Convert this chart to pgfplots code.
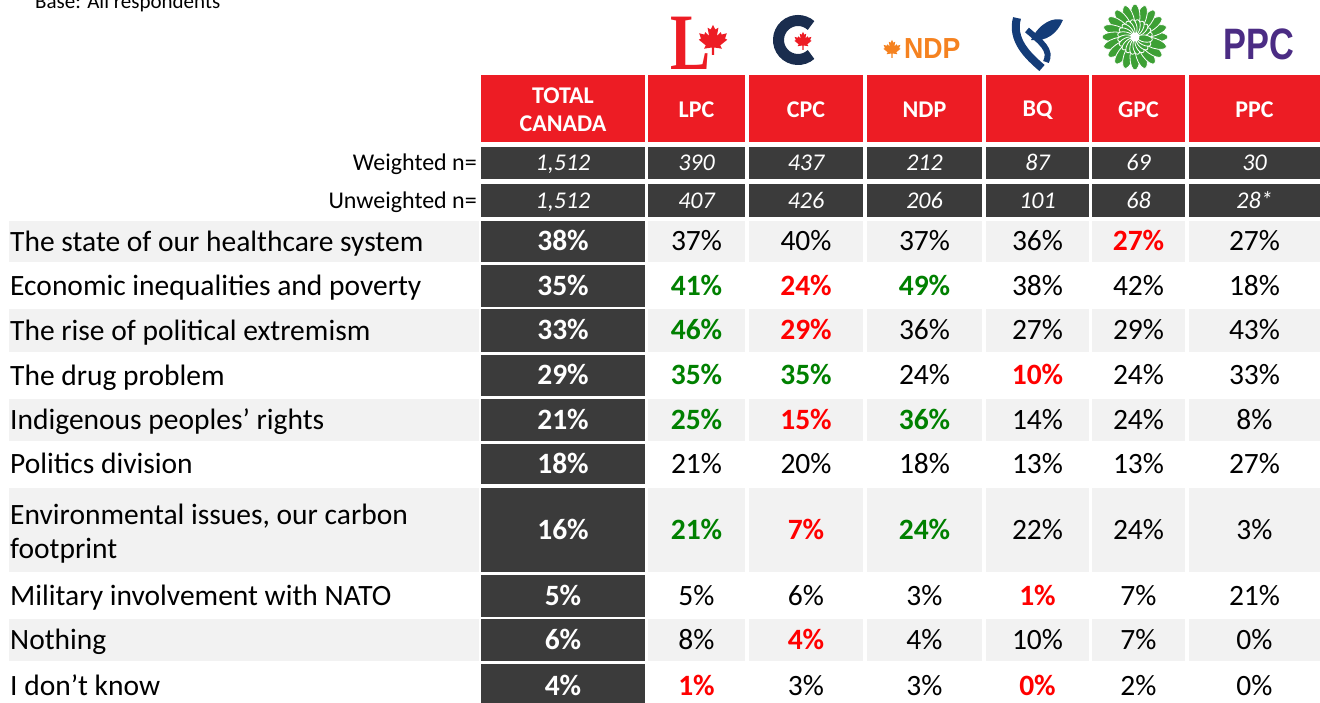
\documentclass[border=0pt]{standalone}
\usepackage{pgfplots}
\pgfplotsset{compat=1.18}
\usepackage{pgfplotstable}
\usepackage{fontspec}
\setmainfont{Carlito}
\newfontfamily\lsans{Liberation Sans}
\newfontfamily\lserif{Liberation Serif}
\definecolor{hdr}{HTML}{ED1C24}
\definecolor{dark}{HTML}{3B3B3B}
\definecolor{lgrey}{HTML}{F2F2F2}
\definecolor{sigg}{HTML}{008000}
\definecolor{sigr}{HTML}{FF0000}
\definecolor{cpcnavy}{HTML}{1A2D4E}
\definecolor{bqblue}{HTML}{143C78}
\definecolor{ndporange}{HTML}{F58220}
\definecolor{gpcgreen}{HTML}{3DA035}
\definecolor{ppcpurple}{HTML}{4B2C84}
\newcommand\lstrut{\rule[-6.5bp]{0pt}{32bp}}
\tikzset{leaf/.pic={\fill (0,-1) -- (0.07,-1) -- (0.07,-0.5) -- (0.6,-0.58) -- (0.48,-0.36)
  -- (0.95,0.02) -- (0.8,0.1) -- (0.92,0.45) -- (0.58,0.36) -- (0.52,0.52) -- (0.26,0.26)
  -- (0.36,0.82) -- (0.16,0.7) -- (0,1) -- (-0.16,0.7) -- (-0.36,0.82) -- (-0.26,0.26)
  -- (-0.52,0.52) -- (-0.58,0.36) -- (-0.92,0.45) -- (-0.8,0.1) -- (-0.95,0.02)
  -- (-0.48,-0.36) -- (-0.6,-0.58) -- (-0.07,-0.5) -- (-0.07,-1) -- cycle;}}

% column centres: TOTAL 563, LPC 696.5, CPC 806, NDP 924.5, BQ 1037.5, GPC 1138.5, PPC 1254.5
% TOTAL CANADA column (y = row centre)
\pgfplotstableread{
y     v
241.5 38
286   35
330.5 33
375.5 29
420   21
464   18
530   16
596   5
640   6
686   4
}\total

% party cells, no significant difference
\pgfplotstableread{
x      y     v
696.5  241.5 37
806    241.5 40
924.5  241.5 37
1037.5 241.5 36
1254.5 241.5 27
1037.5 286   38
1138.5 286   42
1254.5 286   18
924.5  330.5 36
1037.5 330.5 27
1138.5 330.5 29
1254.5 330.5 43
924.5  375.5 24
1138.5 375.5 24
1254.5 375.5 33
1037.5 420   14
1138.5 420   24
1254.5 420   8
696.5  464   21
806    464   20
924.5  464   18
1037.5 464   13
1138.5 464   13
1254.5 464   27
1037.5 530   22
1138.5 530   24
1254.5 530   3
696.5  596   5
806    596   6
924.5  596   3
1138.5 596   7
1254.5 596   21
696.5  640   8
924.5  640   4
1037.5 640   10
1138.5 640   7
1254.5 640   0
806    686   3
924.5  686   3
1138.5 686   2
1254.5 686   0
}\normal

% significantly higher (green)
\pgfplotstableread{
x      y     v
696.5  286   41
924.5  286   49
696.5  330.5 46
696.5  375.5 35
806    375.5 35
696.5  420   25
924.5  420   36
696.5  530   21
924.5  530   24
}\high

% significantly lower (red)
\pgfplotstableread{
x      y     v
1138.5 241.5 27
806    286   24
806    330.5 29
1037.5 375.5 10
806    420   15
806    530   7
1037.5 596   1
806    640   4
696.5  686   1
1037.5 686   0
}\low

% sample sizes
\pgfplotstableread{
x      w     u
563    1,512 1,512
696.5  390   407
806    437   426
924.5  212   206
1037.5 87    101
1138.5 69    68
1254.5 30    28*
}\ntab

\pgfplotsset{
  cellnode/.style={only marks, mark=*, mark size=0pt,
    mark options={draw=none,fill=none},
    point meta=explicit symbolic,
    every node near coord/.append style={anchor=base, yshift=-9.3bp,
      inner sep=0pt, text=black, font=\fontsize{29.5bp}{32bp}\selectfont}},
  nnode/.style={only marks, mark=*, mark size=0pt,
    mark options={draw=none,fill=none},
    point meta=explicit symbolic,
    every node near coord/.append style={anchor=base, yshift=-7.6bp,
      inner sep=0pt, text=white, font=\fontsize{24bp}{28bp}\selectfont\itshape},
    nodes near coords={\pgfplotspointmeta}},
}

\begin{document}
\begin{tikzpicture}
\path[use as bounding box] (0,0) rectangle (1320bp,703bp);
\begin{scope}[x=1bp, y=-1bp, yshift=703bp]
  % header
  \fill[hdr] (481,75) rectangle (645,142);
  \foreach \l/\r in {648/745,749/863,867/982,986/1089,1092/1185,1189/1320}{
    \fill[hdr] (\l,75) rectangle (\r,142);
    \fill[dark] (\l,147) rectangle (\r,179);
    \fill[dark] (\l,184) rectangle (\r,217);
  }
  \fill[dark] (481,147) rectangle (645,179);
  \fill[dark] (481,184) rectangle (645,217);
  % body rows
  \foreach \t/\b [count=\i] in {221/262,265/307,309/352,355/396,399/441,444/484,488/572,575/617,619/661,664/708}{
    \ifodd\i\relax
      \fill[lgrey] (9,\t) rectangle (479,\b);
      \foreach \l/\r in {648/745,749/863,867/982,986/1089,1092/1185,1189/1320}{
        \fill[lgrey] (\l,\t) rectangle (\r,\b);
      }
    \fi
    \fill[dark] (481,\t) rectangle (645,\b);
  }
  % base note (cut at the top, as in the source)
  \node[anchor=base west, inner sep=0pt, font=\fontsize{21bp}{24bp}\selectfont] at (35,9) {Base: All respondents};
  \node[anchor=base east, inner sep=0pt, font=\fontsize{24bp}{28bp}\selectfont] at (477,171) {Weighted n=};
  \node[anchor=base east, inner sep=0pt, font=\fontsize{24bp}{28bp}\selectfont] at (477,208.5) {Unweighted n=};
  % party logos (approximate)
  \node[anchor=base west, inner sep=0pt, text=hdr, xscale=0.75, font=\lserif\bfseries\fontsize{80bp}{80bp}\selectfont] at (670,70) {L};
  \pic[color=hdr, scale=15, yscale=-1] at (713,40) {leaf};
  \draw[cpcnavy, line width=11bp] (798,40) ++(48:19.5) arc[start angle=48, end angle=312, radius=19.5];
  \pic[color=hdr, scale=9, yscale=-1] at (803,41) {leaf};
  \pic[color=ndporange, scale=9, yscale=-1] at (892,49) {leaf};
  \node[anchor=west, inner sep=0pt, text=ndporange, xscale=0.92, font=\lsans\bfseries\fontsize{29bp}{29bp}\selectfont] at (904,49) {NDP};
  \draw[bqblue, line width=8bp] (1017,18) .. controls (1011,40) and (1028,56) .. (1042,68);
  \fill[bqblue] (1031,40) .. controls (1040,22) and (1054,17) .. (1063,20) .. controls (1057,34) and (1046,42) .. cycle;
  \draw[bqblue, line width=6bp] (1027,30) .. controls (1041,42) and (1052,50) .. (1046,62);
  \foreach \a in {0,18,...,342}{
    \filldraw[fill=gpcgreen, draw=white, line width=0.8bp, rotate around={\a:(1135,37)}] (1155,37) ellipse (13 and 5);
  }
  \foreach \a in {9,27,...,351}{
    \filldraw[fill=gpcgreen, draw=white, line width=0.8bp, rotate around={\a:(1135,37)}] (1145,37) ellipse (7.5 and 3.5);
  }
  \fill[white] (1135,37) circle (4.5);
  \node[inner sep=0pt, text=ppcpurple, xscale=0.78, font=\lsans\bfseries\fontsize{44bp}{44bp}\selectfont] at (1259,44) {PPC};
\end{scope}

\begin{axis}[at={(0,0)}, anchor=south west, scale only axis,
  width=1320bp, height=703bp,
  xmin=0, xmax=1320, ymin=0, ymax=703, y dir=reverse,
  axis line style={draw=none}, tick style={draw=none}, major tick length=0pt,
  clip=false,
  xtick={563,696.5,806,924.5,1037.5,1138.5,1254.5},
  xticklabels={{TOTAL\\CANADA},LPC,CPC,NDP,BQ,GPC,PPC},
  xticklabel pos=upper,
  xticklabel style={anchor=center, yshift=-110bp, align=center, inner sep=0pt,
    text=white, font=\fontsize{24bp}{28bp}\selectfont\bfseries},
  ytick={241.5,286,330.5,375.5,420,464,534.5,596,640,686},
  yticklabels={The state of our healthcare system,
    Economic inequalities and poverty,
    The rise of political extremism,
    The drug problem,
    Indigenous peoples’ rights,
    Politics division,
    {Environmental issues, our carbon\\footprint},
    Military involvement with NATO,
    Nothing,
    I don’t know},
  yticklabel style={anchor=west, xshift=10bp, align=left, inner sep=0pt,
    text=black, font=\fontsize{29.5bp}{34bp}\selectfont, execute at begin node=\lstrut},
]
% sample sizes
\addplot[nnode] table[x=x, y expr=163,   meta=w] {\ntab};
\addplot[nnode] table[x=x, y expr=200.5, meta=u] {\ntab};
% total column
\addplot[cellnode, nodes near coords={\textcolor{white}{\bfseries\pgfplotspointmeta\%}}]
  table[x expr=563, y=y, meta=v] {\total};
% party columns
\addplot[cellnode, nodes near coords={\pgfplotspointmeta\%}]
  table[x=x, y=y, meta=v] {\normal};
\addplot[cellnode, nodes near coords={\textcolor{sigg}{\bfseries\pgfplotspointmeta\%}}]
  table[x=x, y=y, meta=v] {\high};
\addplot[cellnode, nodes near coords={\textcolor{sigr}{\bfseries\pgfplotspointmeta\%}}]
  table[x=x, y=y, meta=v] {\low};
\end{axis}
\end{tikzpicture}
\end{document}
